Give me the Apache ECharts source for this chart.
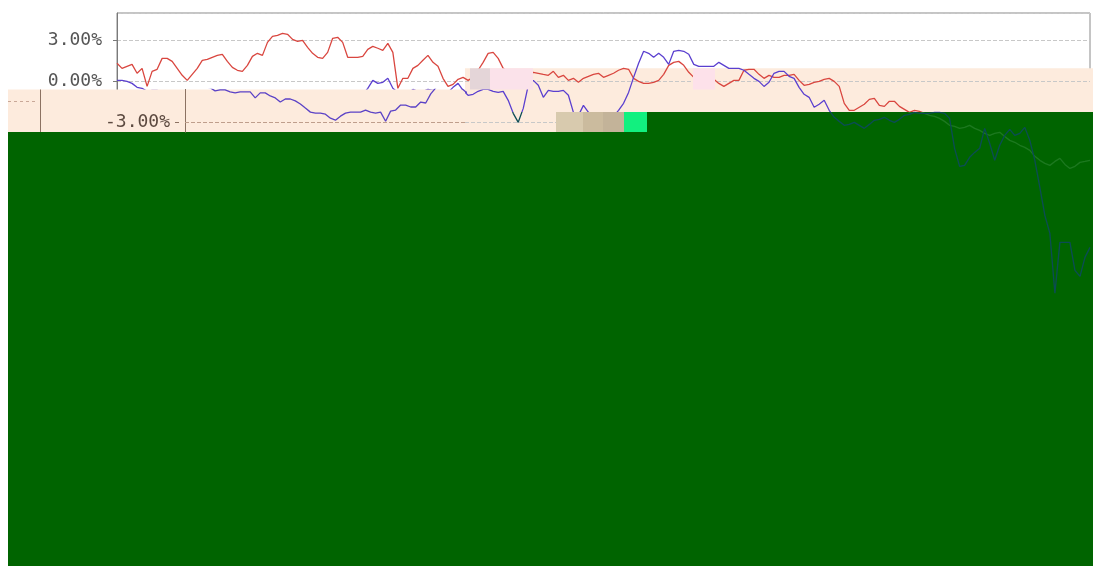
<!DOCTYPE html>
<html>
<head>
<meta charset="utf-8">
<script src="https://cdn.jsdelivr.net/npm/echarts/dist/echarts.min.js"></script>
<style>html,body{margin:0;padding:0;background:#fff;}#c{width:1093px;height:566px;}</style>
</head>
<body>
<div id="c"></div>
<script>
// Cumulative return series (%), one value per trading day
var redSeries = [1.32,0.95,1.10,1.24,0.59,0.95,-0.37,0.73,0.88,1.68,
1.68,1.46,0.95,0.44,0.07,0.51,0.95,1.54,1.61,1.76,
1.90,1.98,1.46,1.02,0.81,0.73,1.17,1.83,2.05,1.90,
2.85,3.29,3.37,3.51,3.44,3.07,2.93,3.00,2.49,2.05,
1.76,1.68,2.12,3.15,3.22,2.85,1.76,1.76,1.76,1.83,
2.34,2.56,2.42,2.27,2.78,2.12,-0.51,0.22,0.22,0.95,
1.17,1.54,1.90,1.39,1.10,0.22,-0.37,-0.22,0.15,0.29,
0.07,0.29,0.81,1.39,2.05,2.12,1.68,0.95,0.66,0.37,
0.22,0.37,0.44,0.66,0.59,0.51,0.44,0.73,0.29,0.44,
0.07,0.22,-0.07,0.22,0.37,0.51,0.59,0.29,0.44,0.59,
0.81,0.95,0.88,0.22,0.00,-0.15,-0.15,-0.07,0.07,0.51,
1.17,1.39,1.46,1.17,0.66,0.29,0.15,0.07,0.00,0.15,
-0.15,-0.37,-0.15,0.07,0.07,0.81,0.88,0.88,0.51,0.22,
0.44,0.29,0.29,0.44,0.44,0.51,0.07,-0.29,-0.22,-0.07,
0.00,0.15,0.22,0.00,-0.37,-1.61,-2.12,-2.12,-1.90,-1.68,
-1.32,-1.24,-1.76,-1.83,-1.46,-1.46,-1.83,-2.05,-2.27,-2.12,
-2.20,-2.34,-2.49,-2.56,-2.71,-2.93,-3.22,-3.29,-3.44,-3.37,
-3.22,-3.44,-3.59,-3.81,-3.95,-3.81,-3.73,-4.03,-4.32,-4.46,
-4.68,-4.83,-5.05,-5.49,-5.78,-6.00,-6.15,-5.86,-5.64,-6.08,
-6.37,-6.22,-5.93,-5.86,-5.78];

var blueSeries = [0.07,0.07,0.00,-0.15,-0.44,-0.51,-0.73,-0.66,-0.66,-0.81,
-0.88,-0.81,-0.81,-0.81,-1.24,-0.88,-0.88,-1.10,-1.24,-1.54,
-1.32,-1.32,-1.46,-1.68,-1.98,-2.27,-2.34,-2.34,-2.42,-2.71,
-2.85,-2.56,-2.34,-2.27,-2.27,-2.27,-2.12,-2.27,-2.34,-2.27,
-2.93,-2.20,-2.12,-1.76,-1.76,-1.90,-1.90,-1.54,-1.61,-0.95,
-0.51,0.07,-0.15,-0.07,0.22,-0.51,-0.81,-1.02,-0.88,-0.59,
-0.73,-0.73,-0.59,-0.66,-0.95,-0.95,-0.81,-0.44,-0.15,-0.66,
-1.02,-0.95,-0.73,-0.59,-0.59,-0.73,-0.81,-0.73,-1.39,-2.34,
-3.00,-1.98,-0.29,0.07,-0.29,-1.17,-0.66,-0.73,-0.73,-0.66,
-1.02,-2.27,-2.49,-1.76,-2.27,-2.56,-2.78,-2.85,-2.71,-2.56,
-2.12,-1.61,-0.81,0.29,1.32,2.20,2.05,1.76,2.05,1.76,
1.24,2.20,2.27,2.20,1.98,1.24,1.10,1.10,1.10,1.10,
1.39,1.17,0.95,0.95,0.95,0.81,0.51,0.22,0.00,-0.37,
-0.07,0.59,0.73,0.73,0.37,0.22,-0.44,-0.95,-1.17,-1.90,
-1.68,-1.39,-2.12,-2.63,-2.93,-3.22,-3.15,-3.00,-3.22,-3.44,
-3.15,-2.85,-2.78,-2.63,-2.85,-3.00,-2.78,-2.49,-2.42,-2.27,
-2.34,-2.34,-2.34,-2.27,-2.27,-2.34,-2.71,-4.90,-6.22,-6.15,
-5.56,-5.20,-4.90,-3.44,-4.54,-5.78,-4.68,-3.95,-3.51,-3.95,
-3.81,-3.37,-4.32,-5.78,-7.76,-9.81,-11.13,-15.50,-11.78,-11.78,
-11.78,-13.83,-14.27,-12.88,-12.15];

var yTickMin = -33, yTickMax = 5, yTickStep = 3;

function pairs(arr){ return arr.map(function(v,i){ return [i, v]; }); }
function pct(v){ return v.toFixed(2) + '%'; }

var FONT = 'DejaVu Sans Mono';
var PEACH = '#fdebdd';
var GREEN = '#006400';
var H = 566, CUT = 112 / H;

function splitColor(top, bottom){
  return new echarts.graphic.LinearGradient(0, 0, 0, H, [
    {offset:0, color:top}, {offset:CUT, color:top},
    {offset:CUT, color:bottom}, {offset:1, color:bottom}
  ], true);
}

var chart = echarts.init(document.getElementById('c'), null, {renderer:'canvas'});
chart.setOption({
  animation: false,
  backgroundColor: '#ffffff',
  grid: [
    {left:117, right:3, top:13, bottom:33.67, show:true, borderColor:'#8a8a8a', borderWidth:1, backgroundColor:'transparent'},
    {left:185, top:89.5, width:280, height:42.5, show:false},
    {left:185, top:81.33, width:280, height:82, show:false}
  ],
  xAxis: [
    {gridIndex:0, type:'value', min:0, max:redSeries.length-1, show:false},
    {gridIndex:1, type:'value', min:0, max:55.83, show:false},
    {gridIndex:2, type:'value', min:0, max:55.83, show:false}
  ],
  yAxis: [
    {gridIndex:0, type:'value', position:'left', min:yTickMin, max:yTickMax, interval:yTickStep, offset:6, z:2,
     axisLine:{show:true, lineStyle:{color:'#7a7a7a'}},
     axisTick:{show:true, length:4, lineStyle:{color:'#7a7a7a'}},
     axisLabel:{showMaxLabel:false, margin:9, color:'#555', fontFamily:FONT, fontSize:18, formatter:pct},
     splitLine:{show:true, lineStyle:{type:'dashed', color:'#c8c8c8'}}},
    {gridIndex:1, type:'value', position:'left', min:-3.707, max:-0.634, offset:6, z:7,
     axisLine:{show:true, lineStyle:{color:'#8c7262'}},
     axisTick:{show:false}, axisLabel:{show:false}, splitLine:{show:false}},
    {gridIndex:1, type:'value', position:'left', min:-3.707, max:-0.634, offset:0, z:7,
     axisLine:{show:true, lineStyle:{color:'#8c7262'}},
     axisTick:{show:false}, axisLabel:{show:false}, splitLine:{show:false}},
    {gridIndex:2, type:'value', position:'left', min:-6, max:0, interval:3, offset:6, z:7,
     axisLine:{show:false}, axisTick:{show:false}, splitLine:{show:false},
     axisLabel:{showMinLabel:false, showMaxLabel:false, margin:9, color:'#5c4a40', fontFamily:FONT, fontSize:18, formatter:pct}}
  ],
  series: [
    {type:'line', xAxisIndex:0, yAxisIndex:0, data:pairs(redSeries), z:4, showSymbol:false,
     lineStyle:{width:1.3, color:splitColor('#d9463f', '#1c781f')}, itemStyle:{color:'#d9463f'}},
    {type:'line', xAxisIndex:0, yAxisIndex:0, data:pairs(blueSeries), z:4, showSymbol:false,
     lineStyle:{width:1.3, color:splitColor('#5a3fcf', '#0b4b55')}, itemStyle:{color:'#5a3fcf'}},
    {type:'line', xAxisIndex:1, yAxisIndex:1, data:pairs(redSeries), z:7, showSymbol:false, color:'#d8513f', lineStyle:{width:1.3}},
    {type:'line', xAxisIndex:1, yAxisIndex:1, data:pairs(blueSeries), z:7, showSymbol:false, color:'#5b42c6', lineStyle:{width:1.3},
     markLine:{silent:true, z:8, symbol:'none', label:{show:false},
       lineStyle:{type:'dashed', color:'#bf9e8c', width:1}, data:[{yAxis:-3}]}}
  ],
  graphic: [
    {type:'rect', silent:true, z:1, shape:{x:465, y:68.3, width:628, height:43.7}, style:{fill:PEACH}},
    {type:'rect', silent:true, z:1, shape:{x:465, y:112, width:91, height:20}, style:{fill:PEACH}},
    {type:'rect', silent:true, z:3, shape:{x:8, y:132, width:1085, height:434}, style:{fill:GREEN}},
    {type:'rect', silent:true, z:3, shape:{x:647, y:112, width:446, height:20}, style:{fill:GREEN}},
    {type:'rect', silent:true, z:5, shape:{x:556, y:112, width:27, height:20}, style:{fill:'#d8caae'}},
    {type:'rect', silent:true, z:5, shape:{x:583, y:112, width:20, height:20}, style:{fill:'#cbbb9e'}},
    {type:'rect', silent:true, z:5, shape:{x:603, y:112, width:21, height:20}, style:{fill:'#c3b399'}},
    {type:'rect', silent:true, z:5, shape:{x:624, y:112, width:23, height:20}, style:{fill:'#12f07f'}},
    {type:'rect', silent:true, z:5, shape:{x:470, y:68.3, width:20, height:21.2}, style:{fill:'#e4d5d8'}},
    {type:'rect', silent:true, z:5, shape:{x:490, y:68.3, width:43, height:21.2}, style:{fill:'#fbe2ea'}},
    {type:'rect', silent:true, z:5, shape:{x:693, y:68.3, width:22, height:21.2}, style:{fill:'#fde1ea'}},
    {type:'rect', silent:true, z:6, shape:{x:8, y:89.5, width:457, height:42.5}, style:{fill:PEACH}},
    {type:'line', silent:true, z:7, shape:{x1:40.5, y1:89.5, x2:40.5, y2:132}, style:{stroke:'#8c7262', lineWidth:1}},
    {type:'line', silent:true, z:7, shape:{x1:8, y1:101.5, x2:38, y2:101.5}, style:{stroke:'#c9a898', lineWidth:1, lineDash:[3,3]}},
    {type:'line', silent:true, z:7, shape:{x1:175, y1:122.5, x2:179, y2:122.5}, style:{stroke:'#8c7262', lineWidth:1}}
  ]
});
</script>
</body>
</html>
